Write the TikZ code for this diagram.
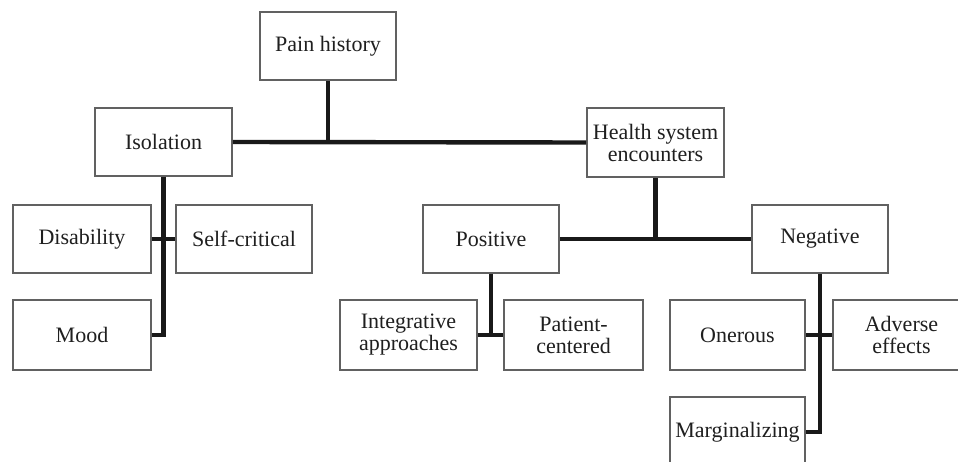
\documentclass[tikz,border=0pt]{standalone}
\usepackage{fontspec}
\setmainfont{Liberation Serif}
\begin{document}
\begin{tikzpicture}[x=1pt,y=-1pt,
  box/.style={draw=black!62,line width=1.6pt,fill=white,inner sep=0pt,
    minimum width=136pt,minimum height=68pt,align=center,
    font=\fontsize{22}{22}\selectfont,text=black!88},
  link/.style={line width=4.4pt,draw=black!90}]
\useasboundingbox (0,0) rectangle (958,462);
\clip (0,0) rectangle (958,462);
% nodes
\node[box] (pain) at (328,46) {Pain history};
\node[box,minimum width=137pt] (iso) at (163.5,142) {Isolation};
\node[box,minimum width=137pt,minimum height=69pt] (hse) at (655.5,142.5) {Health system\\encounters};
\node[box,minimum width=138pt] (dis) at (82,239) {Disability};
\node[box] (self) at (244,239) {Self-critical};
\node[box] (pos) at (491,239) {Positive};
\node[box] (neg) at (820,239) {Negative};
\node[box,minimum width=138pt,minimum height=70pt] (mood) at (82,335) {Mood};
\node[box,minimum width=137pt,minimum height=70pt] (integ) at (408.5,335) {Integrative\\approaches};
\node[box,minimum width=139pt,minimum height=70pt] (pat) at (573.5,335) {Patient-\\centered};
\node[box,minimum width=135pt,minimum height=70pt] (oner) at (737.5,335) {Onerous};
\node[box,minimum width=137pt,minimum height=70pt] (adv) at (901.5,335) {Adverse\\effects};
\node[box,minimum width=135pt,minimum height=70pt] (marg) at (737.5,432) {Marginalizing};
% connectors
\draw[link] (iso.east) -- (hse.west);
\draw[link] (pain.south) -- (pain.south |- iso.east);
\draw[link] (iso.south) |- (mood.east);
\draw[link] (dis.east) -- (self.west);
\draw[link] (pos.east) -- (neg.west);
\draw[link] (hse.south) -- (hse.south |- pos.east);
\draw[link] (pos.south) |- (integ.east);
\draw[link] (integ.east) -- (pat.west);
\draw[link] (neg.south) |- (marg.east);
\draw[link] (oner.east) -- (adv.west);
\end{tikzpicture}
\end{document}
